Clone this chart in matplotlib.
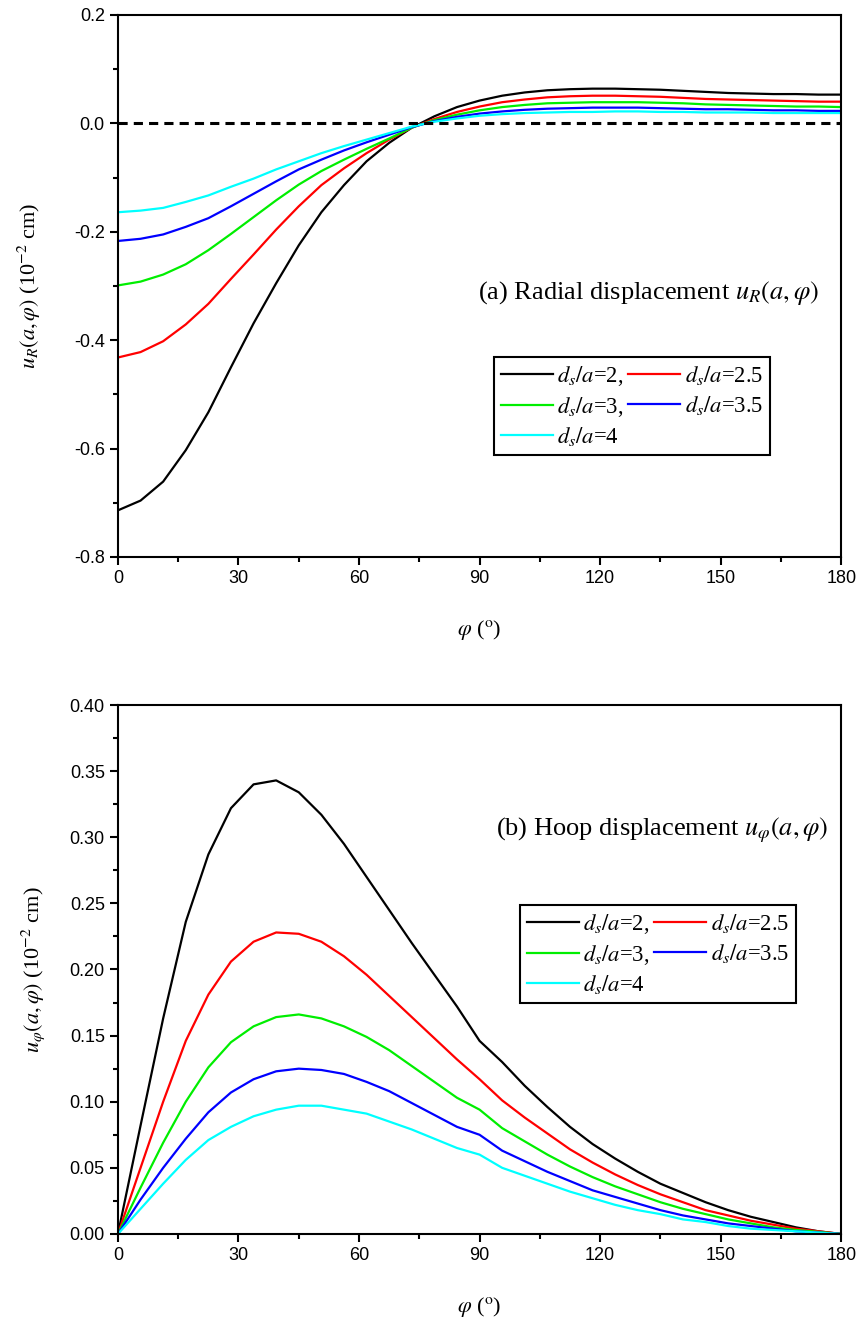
import numpy as np
import matplotlib
matplotlib.use('Agg')
import matplotlib.pyplot as plt
from matplotlib.ticker import MultipleLocator, FormatStrFormatter

plt.rcParams['font.family'] = ['Liberation Sans', 'DejaVu Sans']
plt.rcParams['mathtext.fontset'] = 'stix'
plt.rcParams['axes.unicode_minus'] = False

# angle phi (deg)
phi = [0, 5.625, 11.25, 16.875, 22.5, 28.125, 33.75, 39.375, 45, 50.625, 56.25,
       61.875, 67.5, 73.125, 78.75, 84.375, 90, 95.625, 101.25, 106.875, 112.5,
       118.125, 123.75, 129.375, 135, 140.625, 146.25, 151.875, 157.5, 163.125,
       168.75, 174.375, 180]

# (a) radial displacement, 1e-2 cm
ur_2 = [-0.714, -0.696, -0.661, -0.603, -0.533, -0.450, -0.369, -0.295, -0.225, -0.164, -0.114,
        -0.070, -0.036, -0.008, 0.013, 0.030, 0.042, 0.051, 0.057, 0.061, 0.063,
        0.064, 0.064, 0.063, 0.062, 0.060, 0.058, 0.056, 0.055, 0.054, 0.054, 0.053, 0.053]
ur_25 = [-0.432, -0.422, -0.402, -0.371, -0.333, -0.287, -0.242, -0.196, -0.153, -0.114, -0.083,
         -0.055, -0.030, -0.008, 0.008, 0.021, 0.031, 0.039, 0.044, 0.048, 0.050,
         0.051, 0.051, 0.050, 0.049, 0.047, 0.045, 0.044, 0.043, 0.042, 0.041, 0.040, 0.040]
ur_3 = [-0.299, -0.292, -0.279, -0.260, -0.234, -0.204, -0.173, -0.142, -0.113, -0.088, -0.067,
        -0.047, -0.028, -0.008, 0.006, 0.016, 0.024, 0.030, 0.034, 0.037, 0.038,
        0.039, 0.039, 0.039, 0.038, 0.037, 0.035, 0.034, 0.033, 0.032, 0.031, 0.031, 0.030]
ur_35 = [-0.217, -0.213, -0.205, -0.191, -0.175, -0.153, -0.130, -0.107, -0.085, -0.067, -0.050,
         -0.035, -0.021, -0.007, 0.004, 0.012, 0.018, 0.022, 0.025, 0.027, 0.028,
         0.029, 0.029, 0.029, 0.028, 0.027, 0.026, 0.026, 0.025, 0.024, 0.024, 0.023, 0.023]
ur_4 = [-0.164, -0.161, -0.156, -0.145, -0.133, -0.117, -0.102, -0.085, -0.070, -0.055, -0.042,
        -0.030, -0.018, -0.006, 0.003, 0.009, 0.014, 0.017, 0.019, 0.020, 0.021,
        0.021, 0.022, 0.022, 0.021, 0.021, 0.020, 0.020, 0.020, 0.019, 0.019, 0.019, 0.019]

# (b) hoop displacement, 1e-2 cm
uh_2 = [0, 0.082, 0.163, 0.236, 0.287, 0.322, 0.340, 0.343, 0.334, 0.317, 0.295,
        0.270, 0.245, 0.220, 0.196, 0.172, 0.146, 0.130, 0.112, 0.096, 0.081,
        0.068, 0.057, 0.047, 0.038, 0.031, 0.024, 0.018, 0.013, 0.009, 0.005, 0.002, 0]
uh_25 = [0, 0.050, 0.100, 0.146, 0.181, 0.206, 0.221, 0.228, 0.227, 0.221, 0.210,
         0.196, 0.180, 0.164, 0.148, 0.132, 0.117, 0.101, 0.088, 0.076, 0.064,
         0.054, 0.045, 0.037, 0.030, 0.024, 0.018, 0.014, 0.010, 0.007, 0.004, 0.002, 0]
uh_3 = [0, 0.035, 0.069, 0.100, 0.126, 0.145, 0.157, 0.164, 0.166, 0.163, 0.157,
        0.149, 0.139, 0.127, 0.115, 0.103, 0.094, 0.080, 0.070, 0.060, 0.051,
        0.043, 0.036, 0.030, 0.024, 0.019, 0.015, 0.011, 0.008, 0.005, 0.003, 0.0015, 0]
uh_35 = [0, 0.026, 0.050, 0.072, 0.092, 0.107, 0.117, 0.123, 0.125, 0.124, 0.121,
         0.115, 0.108, 0.099, 0.090, 0.081, 0.075, 0.063, 0.055, 0.047, 0.040,
         0.033, 0.028, 0.023, 0.018, 0.014, 0.011, 0.008, 0.006, 0.004, 0.002, 0.001, 0]
uh_4 = [0, 0.019, 0.038, 0.056, 0.071, 0.081, 0.089, 0.094, 0.097, 0.097, 0.094,
        0.091, 0.085, 0.079, 0.072, 0.065, 0.060, 0.050, 0.044, 0.038, 0.032,
        0.027, 0.022, 0.018, 0.015, 0.011, 0.009, 0.006, 0.004, 0.003, 0.002, 0.001, 0]

colors = ['black', '#ff0000', '#00ee00', '#0000ff', '#00ffff']
labels = [r'$d_s/a$=2,', r'$d_s/a$=2.5', r'$d_s/a$=3,', r'$d_s/a$=3.5', r'$d_s/a$=4']
serif = ['Liberation Serif', 'DejaVu Serif']

fig = plt.figure(figsize=(8.61, 13.22), dpi=100)
ax1 = fig.add_axes([0.137, 0.5787, 0.840, 0.4100])
ax2 = fig.add_axes([0.137, 0.0666, 0.840, 0.4001])


def style(ax):
    for s in ax.spines.values():
        s.set_linewidth(1.5)
    ax.tick_params(which='both', direction='out', width=1.5, labelsize=13,
                   top=False, right=False)
    ax.tick_params(which='major', length=6)
    ax.tick_params(which='minor', length=3.5)
    ax.set_xlim(0, 180)
    ax.xaxis.set_major_locator(MultipleLocator(30))
    ax.xaxis.set_minor_locator(MultipleLocator(15))
    ax.set_xlabel(r'$\varphi$ ($^{\rm o}$)', fontsize=16, family=serif, labelpad=22)


def legend(ax, lines, anchor):
    order = [0, 2, 4, 1, 3]
    leg = ax.legend([lines[i] for i in order], [labels[i] for i in order], ncol=2,
                    loc='upper left', bbox_to_anchor=anchor,
                    prop={'family': serif, 'size': 16.3},
                    fancybox=False, edgecolor='black', framealpha=1,
                    handlelength=2.3, handletextpad=0.2, columnspacing=0.2,
                    borderpad=0.3, labelspacing=0.3, borderaxespad=0)
    leg.get_frame().set_linewidth(1.5)


# (a)
lines = []
for ys, c in zip([ur_2, ur_25, ur_3, ur_35, ur_4], colors):
    l, = ax1.plot(phi, ys, color=c, lw=1.6)
    lines.append(l)
ax1.axhline(0, color='black', lw=2.2, ls=(0, (3, 2)))
style(ax1)
ax1.set_ylim(-0.8, 0.2)
ax1.yaxis.set_major_locator(MultipleLocator(0.2))
ax1.yaxis.set_minor_locator(MultipleLocator(0.1))
ax1.yaxis.set_major_formatter(FormatStrFormatter('%.1f'))
ax1.set_ylabel(r'$u_R(a,\varphi)$ (10$^{-2}$ cm)', fontsize=16, family=serif, labelpad=22)
ax1.text(0.498, 0.487, r'(a) Radial displacement $u_R(a,\varphi)$', transform=ax1.transAxes,
         fontsize=19, family=serif, va='center')
legend(ax1, lines, (0.520, 0.369))

# (b)
lines = []
for ys, c in zip([uh_2, uh_25, uh_3, uh_35, uh_4], colors):
    l, = ax2.plot(phi, ys, color=c, lw=1.6)
    lines.append(l)
style(ax2)
ax2.set_ylim(0, 0.4)
ax2.yaxis.set_major_locator(MultipleLocator(0.05))
ax2.yaxis.set_minor_locator(MultipleLocator(0.025))
ax2.yaxis.set_major_formatter(FormatStrFormatter('%.2f'))
ax2.set_ylabel(r'$u_\varphi(a,\varphi)$ (10$^{-2}$ cm)', fontsize=16, family=serif, labelpad=16)
ax2.text(0.523, 0.764, r'(b) Hoop displacement $u_\varphi(a,\varphi)$', transform=ax2.transAxes,
         fontsize=19, family=serif, va='center')
legend(ax2, lines, (0.556, 0.622))

fig.savefig('out.png', dpi=100)
